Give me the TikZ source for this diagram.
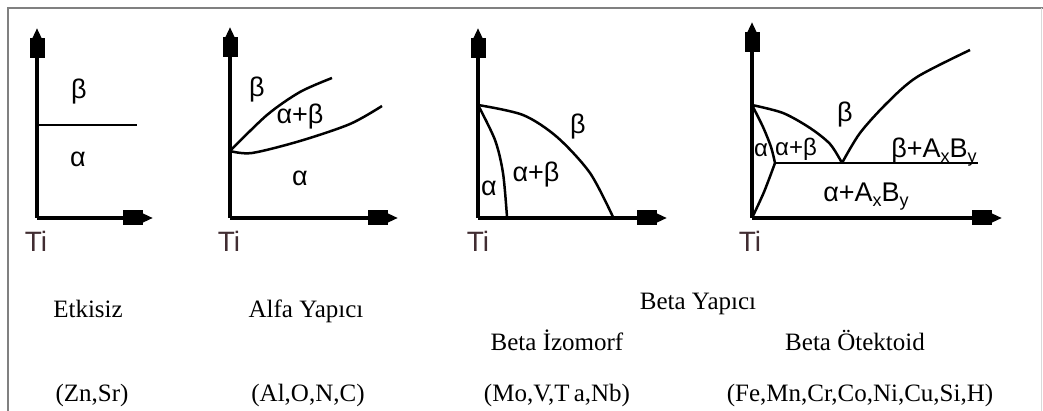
\documentclass[tikz,border=0pt]{standalone}
\usepackage{fontspec}
\setmainfont{Liberation Serif}
\newfontfamily\arialfont{Liberation Sans}
\usetikzlibrary{arrows.meta}

\definecolor{framegray}{RGB}{128,128,128}
\definecolor{tidark}{RGB}{65,45,50}

\newcommand{\subx}[1]{\raisebox{-5pt}{\fontsize{18}{20}\selectfont #1}}

\begin{document}
\begin{tikzpicture}[x=1pt,y=-1pt,
    axis/.style={line width=4pt,-{Rectangle[length=20pt,width=15pt,sep=-2pt]Triangle[length=12pt,width=10pt]}},
    phase/.style={line width=2.5pt},
    lbl/.style={font=\arialfont\fontsize{27}{30}\selectfont,inner sep=0pt},
    smalllbl/.style={font=\arialfont\fontsize{24}{28}\selectfont,inner sep=0pt},
    tilbl/.style={font=\arialfont\fontsize{28}{30}\selectfont,text=tidark,inner sep=0pt},
    captext/.style={font=\fontsize{25}{28}\selectfont,inner sep=0pt,anchor=base}]
  \useasboundingbox (0,0) rectangle (1043,411);
  % frame
  \draw[framegray,line width=2pt] (8,411) -- (8,8) -- (1043,8);
  \draw[framegray!30,line width=1pt] (1041,8) -- (1041,411);

  % Etkisiz
  \coordinate (o1) at (37,218);
  \draw[axis] (o1) -- (37,28);
  \draw[axis] (o1) -- (153,218);
  \coordinate (e1) at (37,125);
  \draw[phase] (e1) -- (137,125);
  \node[lbl] (b1) at (79,92) {β};
  \node[lbl] (a1) at (78,159) {α};
  \node[tilbl] (ti1) at (36,241) {Ti};

  % Alfa yapici
  \coordinate (o2) at (230,218);
  \coordinate (e2) at (230,151);
  \draw[axis] (o2) -- (230,27);
  \draw[axis] (o2) -- (398,218);
  \draw[phase] plot[smooth] coordinates {(e2) (267,115) (300,92) (332,78)};
  \draw[phase] plot[smooth] coordinates {(e2) (252,153) (300,141) (350,124) (382,106)};
  \node[lbl] (b2) at (257,90) {β};
  \node[lbl] (ab2) at (300,117) {α+β};
  \node[lbl] (a2) at (300,178) {α};
  \node[tilbl] (ti2) at (229,241) {Ti};

  % Beta izomorf
  \coordinate (o3) at (478,218);
  \coordinate (e3) at (478,105);
  \draw[axis] (o3) -- (478,28);
  \draw[axis] (o3) -- (667,218);
  \draw[phase] plot[smooth] coordinates {(e3) (523,115) (557,137) (590,173) (613,217)};
  \draw[phase] plot[smooth] coordinates {(e3) (495,140) (503,173) (507,217)};
  \node[lbl] (b3) at (578,127) {β};
  \node[lbl] (ab3) at (536,175) {α+β};
  \node[lbl] (a3) at (489,188) {α};
  \node[tilbl] (ti3) at (478,241) {Ti};

  % Beta otektoid
  \coordinate (o4) at (752,218);
  \coordinate (e4) at (752,105);
  \coordinate (tp) at (775,163);
  \coordinate (eu) at (842,163);
  \draw[axis] (o4) -- (752,22);
  \draw[axis] (o4) -- (1002,218);
  \draw[phase] (tp) -- (978,163);
  \draw[phase] plot[smooth] coordinates {(e4) (783,113) (810,128) (830,144) (eu)};
  \draw[phase] plot[smooth] coordinates {(eu) (860,133) (887,103) (917,77) (970,50)};
  \draw[phase] plot[smooth] coordinates {(e4) (763,127) (771,147) (tp)};
  \draw[phase] plot[smooth] coordinates {(tp) (764,192) (o4)};
  \node[lbl] (b4) at (845,115) {β};
  \node[smalllbl] (ab4) at (796,149) {α+β};
  \node[smalllbl] (a4) at (761,150) {α};
  \node[lbl] (bc4) at (934,152) {β+A\subx{x}B\subx{y}};
  \node[lbl] (ac4) at (866,197) {α+A\subx{x}B\subx{y}};
  \node[tilbl] (ti4) at (750,241) {Ti};

  % captions
  \node[captext] (etk) at (88,317) {Etkisiz};
  \node[captext] (alfa) at (306,317) {Alfa Yapıcı};
  \node[captext] (beta) at (698,309) {Beta Yapıcı};
  \node[captext] (izo) at (557,350) {Beta İzomorf};
  \node[captext] (otek) at (855,350) {Beta Ötektoid};
  \node[captext] (g1) at (92,401) {(Zn,Sr)};
  \node[captext] (g2) at (308,401) {(Al,O,N,C)};
  \node[captext] (g3) at (557,401) {(Mo,V,T\,a,Nb)};
  \node[captext] (g4) at (860,401) {(Fe,Mn,Cr,Co,Ni,Cu,Si,H)};
\end{tikzpicture}
\end{document}
